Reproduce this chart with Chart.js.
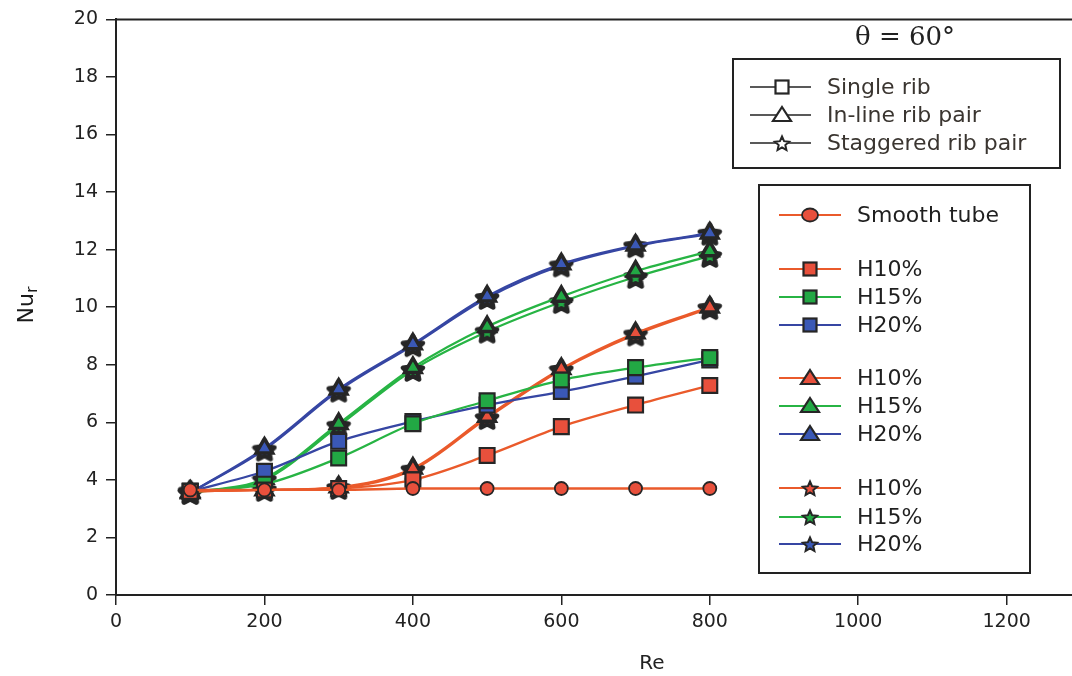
<!DOCTYPE html>
<html>
<head>
<meta charset="utf-8">
<script src="https://cdn.jsdelivr.net/npm/chart.js@4.4.1/dist/chart.umd.min.js"></script>
<style>
html,body{margin:0;padding:0;background:#fff;}
#wrap{width:1072px;height:676px;position:relative;}
</style>
</head>
<body>
<div id="wrap"><canvas id="c" width="1072" height="676"></canvas></div>
<script>
// ---- data ----
const reValues = [100, 200, 300, 400, 500, 600, 700, 800];
const smoothTube = [3.65, 3.65, 3.65, 3.7, 3.7, 3.7, 3.7, 3.7];
const singleH10 = [3.6, 3.65, 3.7, 4.0, 4.85, 5.85, 6.6, 7.28];
const singleH15 = [3.6, 3.85, 4.76, 5.95, 6.75, 7.47, 7.9, 8.25];
const singleH20 = [3.6, 4.3, 5.34, 6.03, 6.6, 7.07, 7.6, 8.17];
const inlineH10 = [3.6, 3.65, 3.75, 4.4, 6.2, 7.86, 9.1, 10.0];
const inlineH15 = [3.55, 4.05, 5.95, 7.9, 9.32, 10.37, 11.25, 11.95];
const inlineH20 = [3.55, 5.1, 7.15, 8.72, 10.38, 11.5, 12.15, 12.57];
const stagH10 = [3.6, 3.65, 3.72, 4.35, 6.15, 7.82, 9.05, 9.97];
const stagH15 = [3.55, 4.0, 5.88, 7.82, 9.15, 10.18, 11.05, 11.78];
const stagH20 = [3.55, 5.05, 7.1, 8.68, 10.32, 11.45, 12.12, 12.55];
const seriesLabels = ['Smooth tube', 'H10%', 'H15%', 'H20%'];
const groupLabels = ['Single rib', 'In-line rib pair', 'Staggered rib pair'];
const titleText = 'θ = 60°';
const xTitle = 'Re';
const yTitleMain = 'Nu';
const yTitleSub = 'r';

// ---- styles ----
const C = {
  orangeLine: '#ea5a2b', greenLine: '#27b444', blueLine: '#3646a3',
  orangeFill: '#e8503c', greenFill: '#22a844', blueFill: '#3a58b6',
  edge: '#262626'
};
const FONT = "'DejaVu Sans', sans-serif";

function starPath(ctx, cx, cy, ro, ri) {
  ctx.beginPath();
  for (let i = 0; i < 10; i++) {
    const r = i % 2 === 0 ? ro : ri;
    const a = -Math.PI / 2 + i * Math.PI / 5;
    const px = cx + r * Math.cos(a), py = cy + r * Math.sin(a);
    if (i === 0) ctx.moveTo(px, py); else ctx.lineTo(px, py);
  }
  ctx.closePath();
}
function makeStar(fill, size, ro, ri, lw) {
  const cv = document.createElement('canvas');
  cv.width = size; cv.height = size;
  const g = cv.getContext('2d');
  starPath(g, size / 2, size / 2 + 1, ro, ri);
  g.fillStyle = fill; g.fill();
  g.lineWidth = lw; g.strokeStyle = C.edge; g.lineJoin = 'round'; g.stroke();
  return cv;
}
const starOrange = makeStar(C.orangeFill, 26, 10.5, 5.2, 4.5);
const starGreen = makeStar(C.greenFill, 26, 10.5, 5.2, 4.5);
const starBlue = makeStar(C.blueFill, 26, 10.5, 5.2, 4.5);

function ds(label, data, line, fill, style, radius, bw) {
  return {
    label, data, borderColor: line, backgroundColor: line,
    pointBackgroundColor: fill, pointBorderColor: C.edge, pointBorderWidth: bw,
    pointStyle: style, pointRadius: radius, pointHoverRadius: radius,
    borderWidth: 2.3, cubicInterpolationMode: 'monotone', fill: false
  };
}
const pts = (arr) => arr.map((v, i) => ({ x: reValues[i], y: v }));

const datasets = [
  ds('Smooth tube', pts(smoothTube), C.orangeLine, C.orangeFill, 'circle', 6.5, 1.8),
  ds('Single H10%', pts(singleH10), C.orangeLine, C.orangeFill, 'rect', 10.5, 2.2),
  ds('Single H15%', pts(singleH15), C.greenLine, C.greenFill, 'rect', 10.5, 2.2),
  ds('Single H20%', pts(singleH20), C.blueLine, C.blueFill, 'rect', 10.5, 2.2),
  ds('In-line H10%', pts(inlineH10), C.orangeLine, C.orangeFill, 'triangle', 9.5, 3.5),
  ds('In-line H15%', pts(inlineH15), C.greenLine, C.greenFill, 'triangle', 9.5, 3.5),
  ds('In-line H20%', pts(inlineH20), C.blueLine, C.blueFill, 'triangle', 9.5, 3.5),
  ds('Staggered H10%', pts(stagH10), C.orangeLine, C.orangeFill, starOrange, 10, 0),
  ds('Staggered H15%', pts(stagH15), C.greenLine, C.greenFill, starGreen, 10, 0),
  ds('Staggered H20%', pts(stagH20), C.blueLine, C.blueFill, starBlue, 10, 0)
];

function legendMarker(ctx, kind, x, y, fill) {
  ctx.save();
  ctx.strokeStyle = C.edge; ctx.fillStyle = fill;
  if (kind === 'circle') {
    ctx.lineWidth = 1.8;
    ctx.beginPath(); ctx.ellipse(x, y, 8, 6.5, 0, 0, Math.PI * 2); ctx.fill(); ctx.stroke();
  } else if (kind === 'rect') {
    ctx.lineWidth = 2.2;
    ctx.fillRect(x - 6.5, y - 6.5, 13, 13); ctx.strokeRect(x - 6.5, y - 6.5, 13, 13);
  } else if (kind === 'triangle') {
    ctx.lineWidth = 2.2;
    ctx.beginPath(); ctx.moveTo(x, y - 8); ctx.lineTo(x + 9, y + 6); ctx.lineTo(x - 9, y + 6); ctx.closePath();
    ctx.fill(); ctx.stroke();
  } else if (kind === 'star') {
    ctx.lineWidth = 2;
    starPath(ctx, x, y + 1, 7.5, 3.5); ctx.fill(); ctx.stroke();
  }
  ctx.restore();
}

const decorPlugin = {
  id: 'decor',
  afterDraw(chart) {
    const ctx = chart.ctx;
    const a = chart.chartArea;
    ctx.save();
    // top frame line
    ctx.strokeStyle = '#222'; ctx.lineWidth = 2;
    ctx.beginPath(); ctx.moveTo(a.left, a.top); ctx.lineTo(a.right, a.top); ctx.stroke();

    // x title
    ctx.fillStyle = '#222';
    ctx.font = '20px ' + FONT;
    ctx.textAlign = 'center'; ctx.textBaseline = 'middle';
    ctx.fillText(xTitle, 652, 664);

    // y title Nu_r
    ctx.save();
    ctx.translate(27, 305);
    ctx.rotate(-Math.PI / 2);
    ctx.fillStyle = '#1a1a1a';
    ctx.textBaseline = 'middle';
    ctx.font = '22px ' + FONT;
    const wMain = ctx.measureText(yTitleMain).width;
    ctx.font = '16px ' + FONT;
    const wSub = ctx.measureText(yTitleSub).width;
    const startX = -(wMain + wSub) / 2;
    ctx.font = '22px ' + FONT;
    ctx.textAlign = 'left';
    ctx.fillText(yTitleMain, startX, 0);
    ctx.font = '16px ' + FONT;
    ctx.fillText(yTitleSub, startX + wMain, 6);
    ctx.restore();

    // theta title
    ctx.fillStyle = '#222';
    ctx.font = "26px 'DejaVu Serif', serif";
    ctx.textAlign = 'center'; ctx.textBaseline = 'middle';
    ctx.fillText(titleText, 905, 38);

    // top legend (group shapes)
    ctx.fillStyle = '#fff';
    ctx.fillRect(733, 59, 327, 109);
    ctx.strokeStyle = '#222'; ctx.lineWidth = 2;
    ctx.strokeRect(733, 59, 327, 109);
    const groupKinds = ['rect', 'triangle', 'star'];
    const gy = [87, 115, 143];
    ctx.font = '22px ' + FONT;
    ctx.textAlign = 'left'; ctx.textBaseline = 'middle';
    for (let i = 0; i < 3; i++) {
      ctx.strokeStyle = '#222'; ctx.lineWidth = 1.5;
      ctx.beginPath(); ctx.moveTo(750, gy[i]); ctx.lineTo(811, gy[i]); ctx.stroke();
      legendMarker(ctx, groupKinds[i], 782, gy[i], '#fff');
      ctx.fillStyle = '#3a3530';
      ctx.fillText(groupLabels[i], 827, gy[i] + 1);
    }

    // bottom legend (series)
    ctx.fillStyle = '#fff';
    ctx.fillRect(759, 185, 271, 388);
    ctx.strokeStyle = '#222'; ctx.lineWidth = 2;
    ctx.strokeRect(759, 185, 271, 388);
    const rows = [
      { y: 215, kind: 'circle', line: C.orangeLine, fill: C.orangeFill, text: seriesLabels[0] },
      { y: 269, kind: 'rect', line: C.orangeLine, fill: C.orangeFill, text: seriesLabels[1] },
      { y: 297, kind: 'rect', line: C.greenLine, fill: C.greenFill, text: seriesLabels[2] },
      { y: 325, kind: 'rect', line: C.blueLine, fill: C.blueFill, text: seriesLabels[3] },
      { y: 378, kind: 'triangle', line: C.orangeLine, fill: C.orangeFill, text: seriesLabels[1] },
      { y: 406, kind: 'triangle', line: C.greenLine, fill: C.greenFill, text: seriesLabels[2] },
      { y: 434, kind: 'triangle', line: C.blueLine, fill: C.blueFill, text: seriesLabels[3] },
      { y: 488, kind: 'star', line: C.orangeLine, fill: C.orangeFill, text: seriesLabels[1] },
      { y: 517, kind: 'star', line: C.greenLine, fill: C.greenFill, text: seriesLabels[2] },
      { y: 544, kind: 'star', line: C.blueLine, fill: C.blueFill, text: seriesLabels[3] }
    ];
    ctx.font = '22px ' + FONT;
    for (const r of rows) {
      ctx.strokeStyle = r.line; ctx.lineWidth = 2;
      ctx.beginPath(); ctx.moveTo(779, r.y); ctx.lineTo(841, r.y); ctx.stroke();
      legendMarker(ctx, r.kind, 810, r.y, r.fill);
      ctx.fillStyle = '#1f1f1f';
      ctx.fillText(r.text, 857, r.y + 1);
    }
    ctx.restore();
  }
};

new Chart(document.getElementById('c'), {
  type: 'line',
  data: { datasets },
  options: {
    responsive: false,
    animation: false,
    events: [],
    layout: { autoPadding: false, padding: { top: 12, right: 0, left: 0, bottom: 0 } },
    plugins: { legend: { display: false }, tooltip: { enabled: false } },
    scales: {
      x: {
        type: 'linear', min: 0, max: 1288,
        afterFit(s) { s.height = 81; },
        ticks: { stepSize: 200, includeBounds: false, color: '#222', padding: 6,
                 font: { family: FONT, size: 19 }, callback: (v) => String(v) },
        grid: { display: true, drawOnChartArea: false, drawTicks: true, tickLength: 10, color: '#222', lineWidth: 1.5 },
        border: { display: true, color: '#222', width: 2 },
        title: { display: false }
      },
      y: {
        min: 0, max: 20,
        afterFit(s) { s.width = 116; },
        ticks: { stepSize: 2, color: '#222', padding: 8, font: { family: FONT, size: 19 } },
        grid: { display: true, drawOnChartArea: false, drawTicks: true, tickLength: 10, color: '#222', lineWidth: 1.5 },
        border: { display: true, color: '#222', width: 2 }
      }
    }
  },
  plugins: [decorPlugin]
});
</script>
</body>
</html>
